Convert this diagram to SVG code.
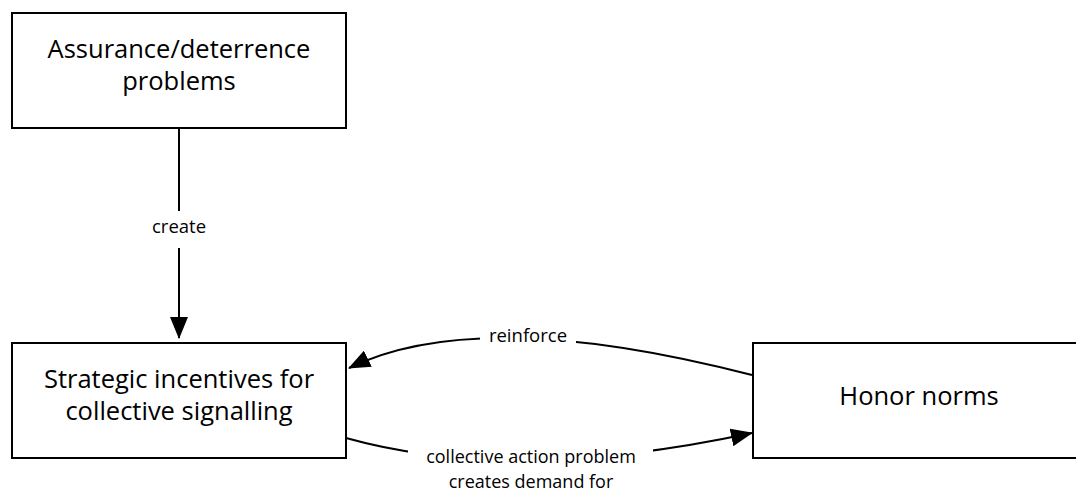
<svg xmlns="http://www.w3.org/2000/svg" width="1076" height="493" viewBox="0 0 1076 493">
<defs>
<style>
.box{fill:#fff;stroke:#000;stroke-width:2}
.t{font-family:"Open Sans","Noto Sans",sans-serif;font-size:25.5px;fill:#000;text-anchor:middle}
.l{font-family:"Open Sans","Noto Sans",sans-serif;font-size:18.5px;fill:#000;text-anchor:middle}
.s{font-size:18px}
.e{fill:none;stroke:#000;stroke-width:2}
.bg{fill:#fff}
</style>
<marker id="ah" markerUnits="userSpaceOnUse" markerWidth="22" markerHeight="18" refX="21" refY="9" orient="auto">
<path d="M0,0 L22,9 L0,18 Z" fill="#000"/>
</marker>
</defs>
<rect width="1076" height="493" fill="#fff"/>
<g id="connectors">
<path class="e" d="M179,129 L179,338" marker-end="url(#ah)"/>
<rect class="bg" x="144" y="211" width="70" height="37"/>
<text class="l" x="179" y="233">create</text>
<path class="e" d="M752,375 Q479,304.5 349,368" marker-end="url(#ah)"/>
<rect class="bg" x="480" y="320" width="96" height="28"/>
<text class="l" x="528" y="342">reinforce</text>
<path class="e" d="M346,438 Q512,484.5 752,433" marker-end="url(#ah)"/>
<rect class="bg" x="408" y="446" width="245" height="47"/>
<text class="l s" x="531" y="463">collective action problem</text>
<text class="l s" x="531" y="488">creates demand for</text>
</g>
<g id="node-assurance">
<rect class="box" x="12" y="13" width="334" height="115"/>
<text class="t" x="179" y="58">Assurance/deterrence</text>
<text class="t" x="179" y="90">problems</text>
</g>
<g id="node-strategic">
<rect class="box" x="12" y="343" width="334" height="115"/>
<text class="t" x="179" y="388">Strategic incentives for</text>
<text class="t" x="179" y="420">collective signalling</text>
</g>
<g id="node-honor">
<rect class="box" x="753" y="343" width="334" height="115"/>
<text class="t" x="919" y="405">Honor norms</text>
</g>
</svg>
